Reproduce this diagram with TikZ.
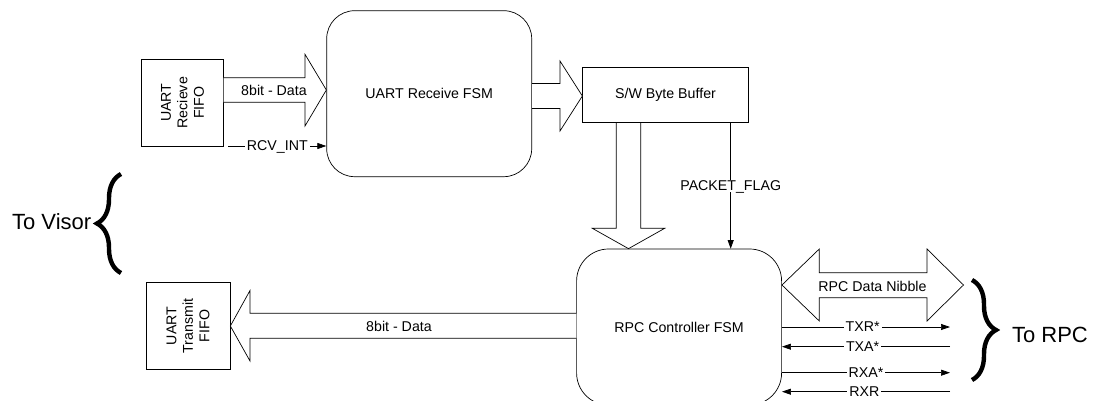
\documentclass[tikz,border=0pt]{standalone}
\usepackage{fontspec}
\setmainfont{Liberation Sans}
\usetikzlibrary{arrows.meta,decorations.pathreplacing,calc}
\begin{document}
\begin{tikzpicture}[x=1pt,y=-1pt,
  every node/.style={font=\fontsize{14.2}{16.5}\selectfont, inner sep=0pt},
  blk/.style={draw, line width=0.7pt},
  fsm/.style={draw, line width=0.7pt, minimum width=205pt},
  fat/.style={draw, line width=0.7pt, fill=white, line join=miter},
  sig/.style={line width=0.7pt},
  tip/.style={-{Triangle[length=9pt,width=6pt]}},
  lab/.style={fill=white, inner xsep=2pt, inner ysep=1pt, text depth=0pt},
  brc/.style={decorate, decoration={brace,amplitude=24pt}, line width=4.4pt},
  big/.style={font=\fontsize{22}{26}\selectfont}]
\useasboundingbox (0,0) rectangle (1093,401);
\clip (0,0) rectangle (1093,401);

% blocks
\node[blk, minimum width=81.6pt, minimum height=86.7pt, align=center] (rfifo) at (182.5,102.7) {};
\node[rotate=90, align=center] at (rfifo.center) {UART\\Recieve\\FIFO};
\node[fsm, rounded corners=28pt, minimum height=166pt] (rfsm) at (429.2,93.7) {UART Receive FSM};
\node[blk, minimum width=165.6pt, minimum height=55.4pt] (buf) at (665.5,95) {S/W Byte Buffer};
\node[fsm, rounded corners=32pt, minimum height=156pt] (rpc) at (679.1,327) {RPC Controller FSM};
\node[blk, minimum width=84pt, minimum height=86.6pt] (tfifo) at (188,326) {};
\node[rotate=90, align=center] at (tfifo.center) {UART\\Transmit\\FIFO};

% fat arrows
\draw[fat] (rfifo.east |- 0,77.7) -- (305,77.7) -- (305,54.3) -- (rfsm.west |- 0,90)
  -- (305,126) -- (305,102.3) -- (rfifo.east |- 0,102.3);
\node[lab, fill=none] (d1) at (274,90) {8bit - Data};

\draw[fat] (rfsm.east |- 0,83.5) -- (560,83.5) -- (560,61) -- (buf.west |- 0,96)
  -- (560,131) -- (560,108.5) -- (rfsm.east |- 0,108.5);

\draw[fat] (616.3,0 |- buf.south) -- (616.3,228.3) -- (592.3,228.3) -- (628.5,0 |- rpc.north)
  -- (664.7,228.3) -- (640.7,228.3) -- (640.7,0 |- buf.south);

\draw[fat] (rpc.west |- 0,313.3) -- (250,313.3) -- (250,290.5) -- (tfifo.east)
  -- (250,361) -- (250,338.3) -- (rpc.west |- 0,338.3);
\node[lab, fill=none] (d2) at (399,326) {8bit - Data};

\draw[fat] (rpc.east |- 0,285) -- (819.3,249) -- (819.3,272.7) -- (927,272.7) -- (927,249)
  -- (963.5,285) -- (927,321) -- (927,297.7) -- (819.3,297.7) -- (819.3,321) -- cycle;
\node[lab, fill=none] (nib) at (872.5,286) {RPC Data Nibble};

% thin signals
\draw[sig, tip] (228.3,146) -- (rfsm.west |- 0,146) node[lab, midway] {RCV\_INT};
\draw[sig, -{Triangle[length=8.5pt,width=6pt]}] (730.7,0 |- buf.south) -- (730.7,0 |- rpc.north)
  node[lab, pos=0.5] {PACKET\_FLAG};

\coordinate (e1) at (950,327);
\coordinate (e2) at (950,346.7);
\coordinate (e3) at (950,372.7);
\coordinate (e4) at (950,391.7);
\draw[sig, tip] (rpc.east |- e1) -- (e1) node[lab, pos=0.48] {TXR*};
\draw[sig, tip] (e2) -- (rpc.east |- e2) node[lab, pos=0.52] {TXA*};
\draw[sig, tip] (rpc.east |- e3) -- (e3) node[lab, pos=0.5] {RXA*};
\draw[sig, tip] (e4) -- (rpc.east |- e4) node[lab, pos=0.51] {RXR};

% braces
\draw[brc] (121,273) -- (121,174);
\node[big] (visor) at (51.7,222) {To Visor};
\draw[brc] (972,280) -- (972,380);
\node[big] (torpc) at (1050,335) {To RPC};
\end{tikzpicture}
\end{document}
